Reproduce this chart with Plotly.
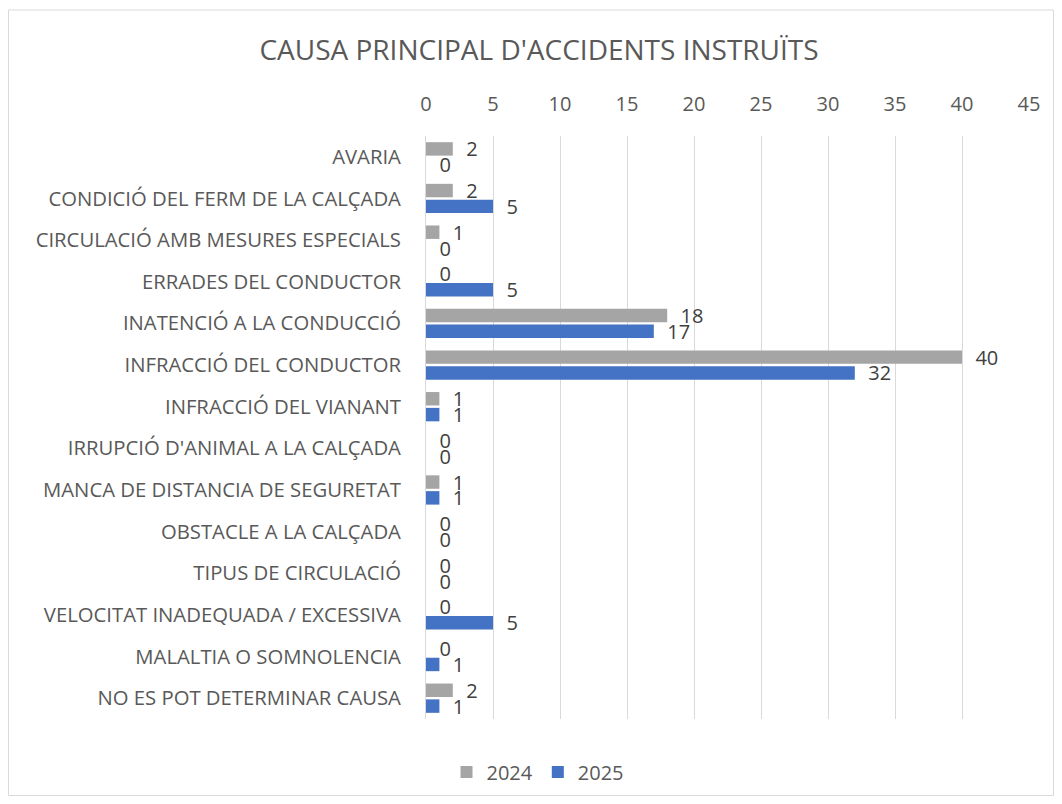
import plotly.graph_objects as go

categories = [
    "AVARIA",
    "CONDICIÓ DEL FERM DE LA CALÇADA",
    "CIRCULACIÓ AMB MESURES ESPECIALS",
    "ERRADES DEL CONDUCTOR",
    "INATENCIÓ A LA CONDUCCIÓ",
    "INFRACCIÓ DEL CONDUCTOR",
    "INFRACCIÓ DEL VIANANT",
    "IRRUPCIÓ D'ANIMAL A LA CALÇADA",
    "MANCA DE DISTANCIA DE SEGURETAT",
    "OBSTACLE A LA CALÇADA",
    "TIPUS DE CIRCULACIÓ",
    "VELOCITAT INADEQUADA / EXCESSIVA",
    "MALALTIA O SOMNOLENCIA",
    "NO ES POT DETERMINAR CAUSA",
]
values_2024 = [2, 2, 1, 0, 18, 40, 1, 0, 1, 0, 0, 0, 0, 2]
values_2025 = [0, 5, 0, 5, 17, 32, 1, 0, 1, 0, 0, 5, 1, 1]
x_ticks = [0, 5, 10, 15, 20, 25, 30, 35, 40, 45]

FONT = "Open Sans"
FS = 20
W, H = 1046, 788          # page body has an 8px margin
L, R, T, B = 418, 25, 128, 77

fig = go.Figure()
for name, vals, col in [("2024", values_2024, "#A5A5A5"), ("2025", values_2025, "#4472C4")]:
    fig.add_trace(go.Bar(
        y=categories, x=vals, name=name, orientation="h",
        marker=dict(color=col, line=dict(width=0)),
        texttemplate="\u00a0\u00a0%{x}", textposition="outside",
        textfont=dict(family=FONT, size=FS, color="#404040"),
        cliponaxis=False, constraintext="none",
    ))

pw = W - L - R
ph = H - T - B
fig.add_shape(
    type="rect", xref="paper", yref="paper",
    x0=(0.5 - L) / pw, x1=(W - 0.5 - L) / pw,
    y0=(H - B - (H - 0.5)) / ph, y1=(H - B - 2) / ph,
    line=dict(color="#D9D9D9", width=1), layer="below",
)

fig.update_layout(
    width=W, height=H,
    margin=dict(l=L, r=R, t=T, b=B),
    paper_bgcolor="white", plot_bgcolor="white",
    barmode="group", bargap=0.24, bargroupgap=0.15,
    title=dict(text="CAUSA PRINCIPAL D'ACCIDENTS INSTRUÏTS",
               font=dict(family=FONT, size=28, color="#595959"),
               x=531 / W, xanchor="center", y=1 - 42 / H, yanchor="middle"),
    font=dict(family=FONT, size=FS, color="#595959"),
    showlegend=True,
    legend=dict(orientation="h", x=530 / W, xref="container",
                xanchor="center", y=1 - 764 / H, yref="container", yanchor="middle",
                font=dict(family=FONT, size=FS, color="#595959"),
                itemwidth=30, traceorder="normal"),
    xaxis=dict(side="top", range=[0, 45], tickvals=x_ticks,
               showgrid=True, gridcolor="#D9D9D9", gridwidth=1,
               zeroline=False, showline=False, ticks="",
               tickfont=dict(family=FONT, size=FS, color="#595959"),
               ticklabelstandoff=20),
    yaxis=dict(autorange="reversed", showgrid=False, zeroline=False,
               showline=True, linecolor="#D9D9D9", linewidth=1, ticks="",
               tickfont=dict(family=FONT, size=20.3, color="#595959"),
               ticklabelstandoff=20),
)

fig.write_html("out.html")
